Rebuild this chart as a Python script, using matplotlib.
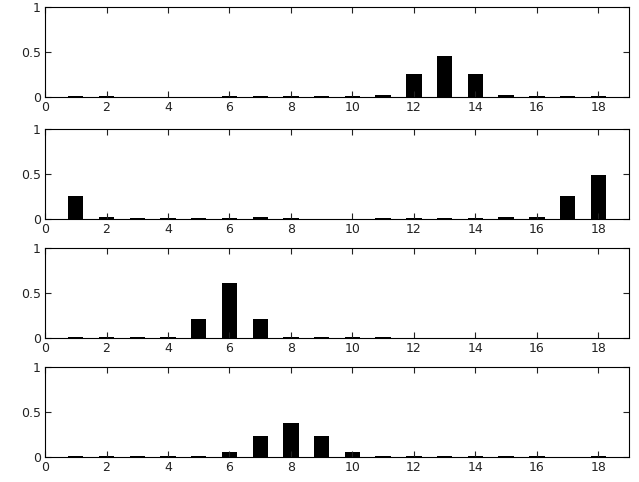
import matplotlib
matplotlib.use("Agg")
import matplotlib.pyplot as plt
import numpy as np

# positions 1..18
x = np.arange(1, 19)

panel1 = [0.005, 0.005, 0.0, 0.0, 0.0, 0.005, 0.005, 0.005, 0.005, 0.005, 0.02, 0.25,
          0.45, 0.25, 0.02, 0.005, 0.005, 0.005]
panel2 = [0.25, 0.02, 0.01, 0.01, 0.01, 0.01, 0.015, 0.005, 0.0, 0.0, 0.01, 0.01,
          0.01, 0.01, 0.015, 0.02, 0.25, 0.49]
panel3 = [0.01, 0.01, 0.01, 0.01, 0.21, 0.61, 0.21, 0.01, 0.01, 0.01, 0.005, 0.0,
          0.0, 0.0, 0.0, 0.0, 0.0, 0.0]
panel4 = [0.005, 0.005, 0.005, 0.005, 0.005, 0.06, 0.23, 0.38, 0.23, 0.06, 0.005, 0.005,
          0.005, 0.005, 0.005, 0.005, 0.0, 0.005]

panels = [panel1, panel2, panel3, panel4]
xticks = list(range(0, 19, 2))
yticks = [0, 0.5, 1]
ytick_labels = ["0", "0.5", "1"]

fig = plt.figure(figsize=(6.39, 4.82), dpi=100)

bottoms = [0.799, 0.546, 0.299, 0.052]
for b, vals in zip(bottoms, panels):
    ax = fig.add_axes([0.0705, b, 0.914, 0.187])
    ax.bar(x, vals, width=0.5, color="black")
    ax.set_xlim(0, 19)
    ax.set_ylim(0, 1)
    ax.set_xticks(xticks)
    ax.set_yticks(yticks)
    ax.set_yticklabels(ytick_labels)
    ax.tick_params(direction="in", top=True, right=True, length=4, width=0.8,
                   labelsize=9, colors="#222222", pad=3)
    for s in ax.spines.values():
        s.set_linewidth(0.8)

fig.savefig("out.png", dpi=100)
